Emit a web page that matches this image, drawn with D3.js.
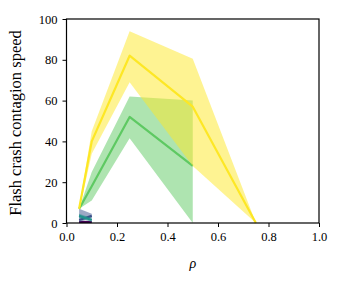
<!DOCTYPE html>
<html>
<head>
<meta charset="utf-8">
<script src="https://cdn.jsdelivr.net/npm/d3@7"></script>
<style>
  body { margin: 0; background: #fff; }
  svg text { font-family: "Liberation Serif", "DejaVu Serif", serif; fill: #000; }
</style>
</head>
<body>
<div id="chart"></div>
<script>
// rho values where each series was measured
var rhoA = [0.05, 0.1];
var rhoB = [0.05, 0.1, 0.25, 0.5];
var rhoC = [0.05, 0.1, 0.25, 0.5, 0.75];

// series colours (viridis, 5 steps)
var colors = ["#440154", "#3b528b", "#21918c", "#5ec962", "#fde725"];

// mean speed and band (lower / upper) per series
var s1Mean = [0.5, 0.5], s1Lo = [0, 0], s1Hi = [1, 1];
var s2Mean = [1.5, 3.5], s2Lo = [0.5, 2.5], s2Hi = [7, 4.5];
var s3Mean = [3.5, 1.5], s3Lo = [2.5, 0.5], s3Hi = [4.5, 2.5];
var s4Mean = [7, 18, 52, 28], s4Lo = [7, 11, 41.5, 0], s4Hi = [7, 25, 62, 60];
var s5Mean = [7, 40, 82, 57, 0], s5Lo = [6, 34, 69, 28, 0], s5Hi = [8, 45, 94, 80.5, 0];

var xTicks = [0, 0.2, 0.4, 0.6, 0.8, 1.0];
var yTicks = [0, 20, 40, 60, 80, 100];

var series = [
  {x: rhoA, m: s1Mean, lo: s1Lo, hi: s1Hi},
  {x: rhoA, m: s2Mean, lo: s2Lo, hi: s2Hi},
  {x: rhoA, m: s3Mean, lo: s3Lo, hi: s3Hi},
  {x: rhoB, m: s4Mean, lo: s4Lo, hi: s4Hi},
  {x: rhoC, m: s5Mean, lo: s5Lo, hi: s5Hi}
];

var W = 344, H = 286;
var margin = {left: 66.5, right: 25, top: 19, bottom: 63};

var svg = d3.select("#chart").append("svg")
    .attr("width", W).attr("height", H);

var x = d3.scaleLinear().domain([0, 1]).range([margin.left, W - margin.right]);
var y = d3.scaleLinear().domain([0, 100]).range([H - margin.bottom, margin.top]);

var g = svg.append("g");

series.forEach(function(s, i) {
  var pts = s.x.map(function(v, j) { return {x: v, m: s.m[j], lo: s.lo[j], hi: s.hi[j]}; });
  var area = d3.area()
      .x(function(d) { return x(d.x); })
      .y0(function(d) { return y(d.lo); })
      .y1(function(d) { return y(d.hi); });
  var line = d3.line()
      .x(function(d) { return x(d.x); })
      .y(function(d) { return y(d.m); });
  g.append("path").datum(pts)
      .attr("d", area)
      .attr("fill", colors[i])
      .attr("fill-opacity", 0.5);
  g.append("path").datum(pts)
      .attr("d", line)
      .attr("fill", "none")
      .attr("stroke", colors[i])
      .attr("stroke-width", 2.2)
      .attr("stroke-linejoin", "round");
});

// frame
svg.append("rect")
    .attr("x", x(0)).attr("y", y(100))
    .attr("width", x(1) - x(0)).attr("height", y(0) - y(100))
    .attr("fill", "none").attr("stroke", "#000").attr("stroke-width", 1.2);

var xAxis = svg.append("g")
    .attr("transform", "translate(0," + y(0) + ")")
    .call(d3.axisBottom(x).tickValues(xTicks).tickFormat(d3.format(".1f")).tickSize(4).tickPadding(5));
var yAxis = svg.append("g")
    .attr("transform", "translate(" + x(0) + ",0)")
    .call(d3.axisLeft(y).tickValues(yTicks).tickSize(4).tickPadding(5));

[xAxis, yAxis].forEach(function(a) {
  a.attr("font-family", "Liberation Serif, DejaVu Serif, serif").attr("font-size", 12.5);
  a.select(".domain").remove();
  a.selectAll(".tick line").attr("stroke", "#000").attr("stroke-width", 1);
});

svg.append("text")
    .attr("x", (x(0) + x(1)) / 2).attr("y", 268)
    .attr("text-anchor", "middle")
    .attr("font-size", 14).attr("font-style", "italic")
    .text("ρ");

svg.append("text")
    .attr("transform", "translate(21," + ((y(0) + y(100)) / 2 + 2) + ") rotate(-90)")
    .attr("text-anchor", "middle")
    .attr("font-size", 16.5)
    .text("Flash crash contagion speed");
</script>
</body>
</html>
